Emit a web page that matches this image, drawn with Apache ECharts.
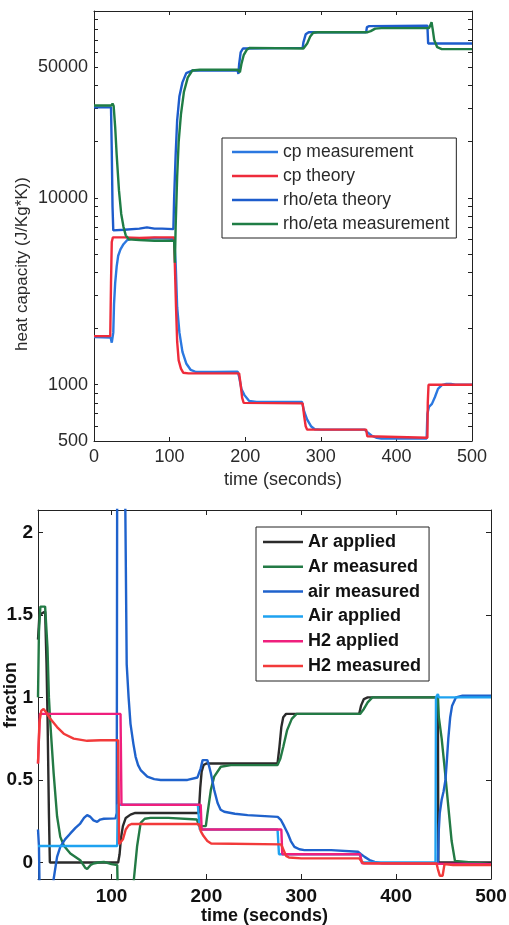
<!DOCTYPE html>
<html>
<head>
<meta charset="utf-8">
<script src="https://cdn.jsdelivr.net/npm/echarts@6/dist/echarts.min.js"></script>
<style>
  html, body { margin: 0; padding: 0; background: #fff; }
  #chart { width: 509px; height: 925px; }
</style>
</head>
<body>
<div id="chart"></div>
<script>
// ---- top panel: heat capacity (log scale) ----
var heatTicks = [500, 1000, 10000, 50000]
var heatMinorTicks = [500, 600, 700, 800, 900, 1000, 2000, 3000, 4000, 5000, 6000, 7000, 8000, 9000,
  10000, 20000, 30000, 40000, 50000, 60000, 70000, 80000, 90000]
var timeTicksTop = [0, 100, 200, 300, 400, 500]

var cpMeasurement = [[0,1800],[22,1790],[23.5,1680],[24.5,1650],[25.5,1900],[26.5,2700],[28,3500],[30,4300],
  [32,4900],[35,5300],[39,5650],[44,5950],[50,6050],[60,6050],[80,6100],[100,6050],[106,6000],[108,4500],
  [110,2600],[113,1900],[117,1500],[122,1300],[128,1200],[135,1170],[160,1170],[190,1175],[192,1100],
  [195,950],[199,880],[205,820],[215,810],[275,810],[278,720],[282,650],[287,600],[292,578],[300,575],
  [358,575],[362,555],[367,535],[374,520],[380,516],[440,516],[441,700],[443,760],[447,790],[451,860],
  [455,950],[460,995],[466,1010],[472,1010],[478,1000],[500,1000]]
var cpTheory = [[0,1820],[21.5,1820],[22.5,3500],[23.5,5800],[25,6150],[40,6150],[60,6100],[80,6150],
  [106,6150],[107,4300],[108.5,2600],[110,1700],[112,1350],[115,1220],[118,1160],[125,1150],[192,1150],
  [194,1000],[196,850],[198,800],[276,795],[278,680],[280,600],[282,575],[360,575],[361.5,530],[363,520],
  [441,520],[441.5,800],[442.5,1000],[500,1000]]
var rhoEtaTheory = [[0,30500],[22.5,30500],[23.5,18000],[24.5,9000],[25.5,6700],[40,6750],[60,6850],
  [70,6950],[80,6850],[90,6850],[105,6800],[106,10000],[108,17000],[110,26000],[113,35000],[117,41500],
  [122,46500],[130,48000],[190,48000],[191,46000],[192,52000],[194,60000],[197,63000],[276,63500],
  [277,68000],[280,75000],[284,77000],[360,77000],[361,82000],[364,83000],[441,83500],[442,67000],[500,67000]]
var rhoEtaMeasurement = [[0,31200],[23,31200],[24.5,32000],[26,31000],[28,24000],[30,17000],[33,11000],
  [36,8200],[39,7000],[42,6300],[46,6000],[60,5950],[80,5900],[100,5900],[106,5900],[107,4500],[108,7000],
  [110,13000],[112,20000],[115,28000],[119,37000],[124,44000],[130,48000],[140,48500],[190,48500],
  [193,47000],[195,52000],[198,58000],[202,62000],[206,63500],[277,63000],[279,64000],[282,67000],
  [286,73000],[290,76500],[296,77000],[362,77000],[366,78000],[372,80500],[380,81000],[443,81000],
  [445,84000],[446.5,87000],[448,80000],[450,70000],[454,64000],[460,62500],[500,62500]]

// ---- bottom panel: gas fractions ----
var fractionTicks = [0, 0.5, 1, 1.5, 2]
var timeTicksBottom = [100, 200, 300, 400, 500]

var arApplied = [[22.5,1.35],[24,1.5],[30,1.52],[31.5,1.2],[32.5,0.9],[34,0.3],[35,0],[107,0],[108.5,0.05],
  [110,0.15],[112,0.22],[115,0.27],[120,0.29],[125,0.3],[192,0.3],[193.5,0.45],[195,0.55],[197,0.59],
  [200,0.6],[275,0.6],[277,0.7],[279,0.82],[281,0.88],[284,0.9],[361,0.9],[363,0.95],[366,0.99],
  [370,1.0],[444,1.0],[444.5,0],[500,0]]
var arMeasured = [[22.5,1.0],[23.5,1.4],[25,1.55],[30,1.55],[31,1.45],[32.5,1.3],[34,1.0],[35.5,0.84],
  [39,0.54],[42.6,0.28],[46,0.155],[50,0.1],[56.6,0.055],[67,0.014],[72,-0.03],[74.3,-0.04],[78,-0.015],
  [81,-0.006],[86,0],[92,0.004],[100,-0.01],[106,-0.016],[107,-0.3],[122,-0.3],[123.6,-0.1],[127,0.1],
  [130.7,0.24],[135,0.265],[141,0.27],[160,0.27],[190,0.26],[192.3,0.22],[199.4,0.22],[201,0.29],
  [204.7,0.44],[208.2,0.52],[215.2,0.58],[225.8,0.59],[275,0.59],[278,0.63],[281,0.7],[285,0.8],
  [290,0.87],[295,0.9],[362,0.9],[366,0.93],[370,0.97],[375,1.0],[444,1.0],[445,0.88],[448,0.75],
  [451,0.58],[455,0.34],[458.5,0.13],[462,0.01],[500,-0.01]]
var airMeasured = [[22.5,0.2],[23.5,0.1],[24.5,-0.3],[38,-0.3],[39,-0.1],[42.6,0.034],[46,0.095],
  [51,0.14],[56.6,0.176],[62,0.21],[67,0.236],[71,0.27],[74.3,0.287],[77.8,0.276],[81,0.255],[84.9,0.246],
  [88,0.26],[91.9,0.265],[104.2,0.267],[105.5,0.3],[106,2.5],[114,2.5],[116,1.2],[118,1.0],[120,0.84],
  [123,0.72],[125.4,0.64],[128,0.59],[130.7,0.56],[137.7,0.52],[145,0.505],[151.8,0.5],[180,0.5],
  [190.6,0.515],[194,0.57],[196,0.62],[197.6,0.63],[201,0.62],[203,0.58],[204.7,0.54],[208.2,0.44],
  [211.8,0.36],[215,0.32],[218.8,0.307],[230,0.295],[243.5,0.287],[275.2,0.276],[278.7,0.256],[282,0.22],
  [285.8,0.176],[289,0.13],[292.8,0.095],[298,0.08],[303.3,0.075],[331.5,0.075],[359.8,0.065],[363,0.05],
  [366.8,0.034],[372,0.015],[377.4,0.004],[385,-0.005],[444,-0.005],[445,0.2],[446,0.3],[448,0.38],
  [450,0.43],[452,0.5],[453.5,0.62],[455,0.75],[457,0.88],[459,0.95],[463,1.0],[470,1.01],[500,1.01]]
var airApplied = [[22.5,0.1],[106,0.1],[106.5,0.35],[191,0.35],[193,0.2],[275,0.2],[276.5,0.05],
  [361.5,0.05],[364,0],[441.5,0],[442,1.0],[444,1.02],[445,1.0],[500,1.0]]
var h2Applied = [[22.5,0.6],[24.5,0.9],[109.5,0.9],[110.5,0.35],[194,0.35],[195,0.2],[279,0.2],
  [280,0.05],[362,0.05],[364,-0.005],[500,-0.01]]
var h2Measured = [[22.5,0.6],[24,0.85],[26,0.92],[28.4,0.93],[31,0.91],[35.5,0.87],[42.6,0.82],
  [49.6,0.78],[60.1,0.75],[74.3,0.737],[88.4,0.74],[107,0.74],[108,0.11],[110,0.11],[112,0.14],
  [115,0.2],[118,0.225],[121,0.233],[190,0.233],[192.5,0.23],[194,0.19],[197,0.16],[201,0.13],
  [205,0.115],[278.7,0.11],[281,0.08],[284,0.04],[287,0.03],[300,0.025],[361,0.025],[363,0.01],
  [366,-0.005],[442.6,-0.006],[444,-0.04],[446,-0.08],[449,-0.08],[451,-0.01],[460,-0.016],[500,-0.016]]

var chart = echarts.init(document.getElementById('chart'))

var topFont = { fontFamily: 'Liberation Sans', fontSize: 18, color: '#2a2a2a' }
var botFont = { fontFamily: 'Liberation Sans', fontSize: 18, fontWeight: 'bold', color: '#111' }
var axisLine = { show: true, onZero: false, lineStyle: { color: '#222', width: 1 } }

function line(name, data, color, xi, yi) {
  return {
    name: name,
    type: 'line',
    xAxisIndex: xi,
    yAxisIndex: yi,
    data: data,
    symbol: 'none',
    showSymbol: false,
    lineStyle: { color: color, width: 2.4 },
    itemStyle: { color: color },
    animation: false
  }
}

var option = {
  animation: false,
  backgroundColor: '#fff',
  textStyle: { fontFamily: 'Liberation Sans' },
  grid: [
    { left: 94, top: 11, width: 378, height: 430, outerBoundsMode: 'none', containLabel: false },
    { left: 38, top: 510, width: 453, height: 369, outerBoundsMode: 'none', containLabel: false }
  ],
  xAxis: [
    {
      type: 'value', gridIndex: 0, min: 0, max: 500, position: 'bottom',
      name: 'time (seconds)', nameLocation: 'middle', nameGap: 30, nameTextStyle: topFont,
      axisLine: axisLine,
      axisTick: { inside: true, length: 4, customValues: timeTicksTop, lineStyle: { color: '#222' } },
      axisLabel: { customValues: timeTicksTop, margin: 7, fontSize: 18, color: '#2a2a2a' },
      splitLine: { show: false }
    },
    {
      type: 'value', gridIndex: 0, min: 0, max: 500, position: 'top',
      axisLine: axisLine,
      axisTick: { inside: true, length: 4, customValues: timeTicksTop, lineStyle: { color: '#222' } },
      axisLabel: { show: false },
      splitLine: { show: false }
    },
    {
      type: 'value', gridIndex: 1, min: 22.5, max: 500, position: 'bottom',
      name: 'time (seconds)', nameLocation: 'middle', nameGap: 28, nameTextStyle: botFont,
      axisLine: axisLine,
      axisTick: { inside: true, length: 5, customValues: timeTicksBottom, lineStyle: { color: '#222' } },
      axisLabel: { customValues: timeTicksBottom, margin: 8, fontSize: 19, fontWeight: 'bold', color: '#111' },
      splitLine: { show: false }
    },
    {
      type: 'value', gridIndex: 1, min: 22.5, max: 500, position: 'top',
      axisLine: axisLine,
      axisTick: { inside: true, length: 5, customValues: timeTicksBottom, lineStyle: { color: '#222' } },
      axisLabel: { show: false },
      splitLine: { show: false }
    }
  ],
  yAxis: [
    {
      type: 'log', logBase: 10, gridIndex: 0, min: 500, max: 100000, position: 'left',
      axisLine: axisLine,
      axisTick: { inside: true, length: 4, customValues: heatMinorTicks, lineStyle: { color: '#222' } },
      axisLabel: {
        customValues: heatTicks, margin: 6, fontSize: 18, color: '#2a2a2a',
        formatter: function (v) { return String(Math.round(v)) }
      },
      splitLine: { show: false }
    },
    {
      type: 'log', logBase: 10, gridIndex: 0, min: 500, max: 100000, position: 'right',
      axisLine: axisLine,
      axisTick: { inside: true, length: 4, customValues: heatMinorTicks, lineStyle: { color: '#222' } },
      axisLabel: { show: false },
      splitLine: { show: false }
    },
    {
      type: 'value', gridIndex: 1, min: -0.1, max: 2.135, position: 'left',
      axisLine: axisLine,
      axisTick: { inside: true, length: 5, customValues: fractionTicks, lineStyle: { color: '#222' } },
      axisLabel: { customValues: fractionTicks, margin: 5, fontSize: 19, fontWeight: 'bold', color: '#111' },
      splitLine: { show: false }
    },
    {
      type: 'value', gridIndex: 1, min: -0.1, max: 2.135, position: 'right',
      axisLine: axisLine,
      axisTick: { inside: true, length: 5, customValues: fractionTicks, lineStyle: { color: '#222' } },
      axisLabel: { show: false },
      splitLine: { show: false }
    }
  ],
  legend: [
    {
      data: ['cp measurement', 'cp theory', 'rho/eta theory', 'rho/eta measurement'],
      orient: 'vertical', left: 222, top: 138, icon: 'rect',
      padding: [5, 7, 5, 10], itemWidth: 46, itemHeight: 2.5, itemGap: 6,
      borderColor: '#222', borderWidth: 1, backgroundColor: '#fff',
      textStyle: { fontFamily: 'Liberation Sans', fontSize: 17.5, lineHeight: 18, color: '#2a2a2a' }
    },
    {
      data: ['Ar applied', 'Ar measured', 'air measured', 'Air applied', 'H2 applied', 'H2 measured'],
      orient: 'vertical', left: 256, top: 527, icon: 'rect',
      padding: [6, 8, 6, 7], itemWidth: 40, itemHeight: 2.5, itemGap: 6.8,
      borderColor: '#222', borderWidth: 1, backgroundColor: '#fff',
      textStyle: { fontFamily: 'Liberation Sans', fontSize: 18, fontWeight: 'bold', lineHeight: 18, color: '#111' }
    }
  ],
  graphic: [
    {
      type: 'text', x: 22, y: 264, rotation: Math.PI / 2,
      style: {
        text: 'heat capacity (J/Kg*K))', fontFamily: 'Liberation Sans', fontSize: 17,
        fill: '#2a2a2a', align: 'center', verticalAlign: 'middle'
      }
    },
    {
      type: 'text', x: 11, y: 695, rotation: Math.PI / 2,
      style: {
        text: 'fraction', fontFamily: 'Liberation Sans', fontSize: 18, fontWeight: 'bold',
        fill: '#111', align: 'center', verticalAlign: 'middle'
      }
    }
  ],
  series: [
    line('cp measurement', cpMeasurement, '#2b78e0', 0, 0),
    line('cp theory', cpTheory, '#ee2b3b', 0, 0),
    line('rho/eta theory', rhoEtaTheory, '#1d5ccc', 0, 0),
    line('rho/eta measurement', rhoEtaMeasurement, '#1f7d45', 0, 0),
    line('Ar applied', arApplied, '#2b2b2b', 2, 2),
    line('Ar measured', arMeasured, '#237a45', 2, 2),
    line('air measured', airMeasured, '#1f62cc', 2, 2),
    line('Air applied', airApplied, '#1ea2f0', 2, 2),
    line('H2 applied', h2Applied, '#ef1f7d', 2, 2),
    line('H2 measured', h2Measured, '#f23a3a', 2, 2)
  ]
}

chart.setOption(option)
</script>
</body>
</html>
